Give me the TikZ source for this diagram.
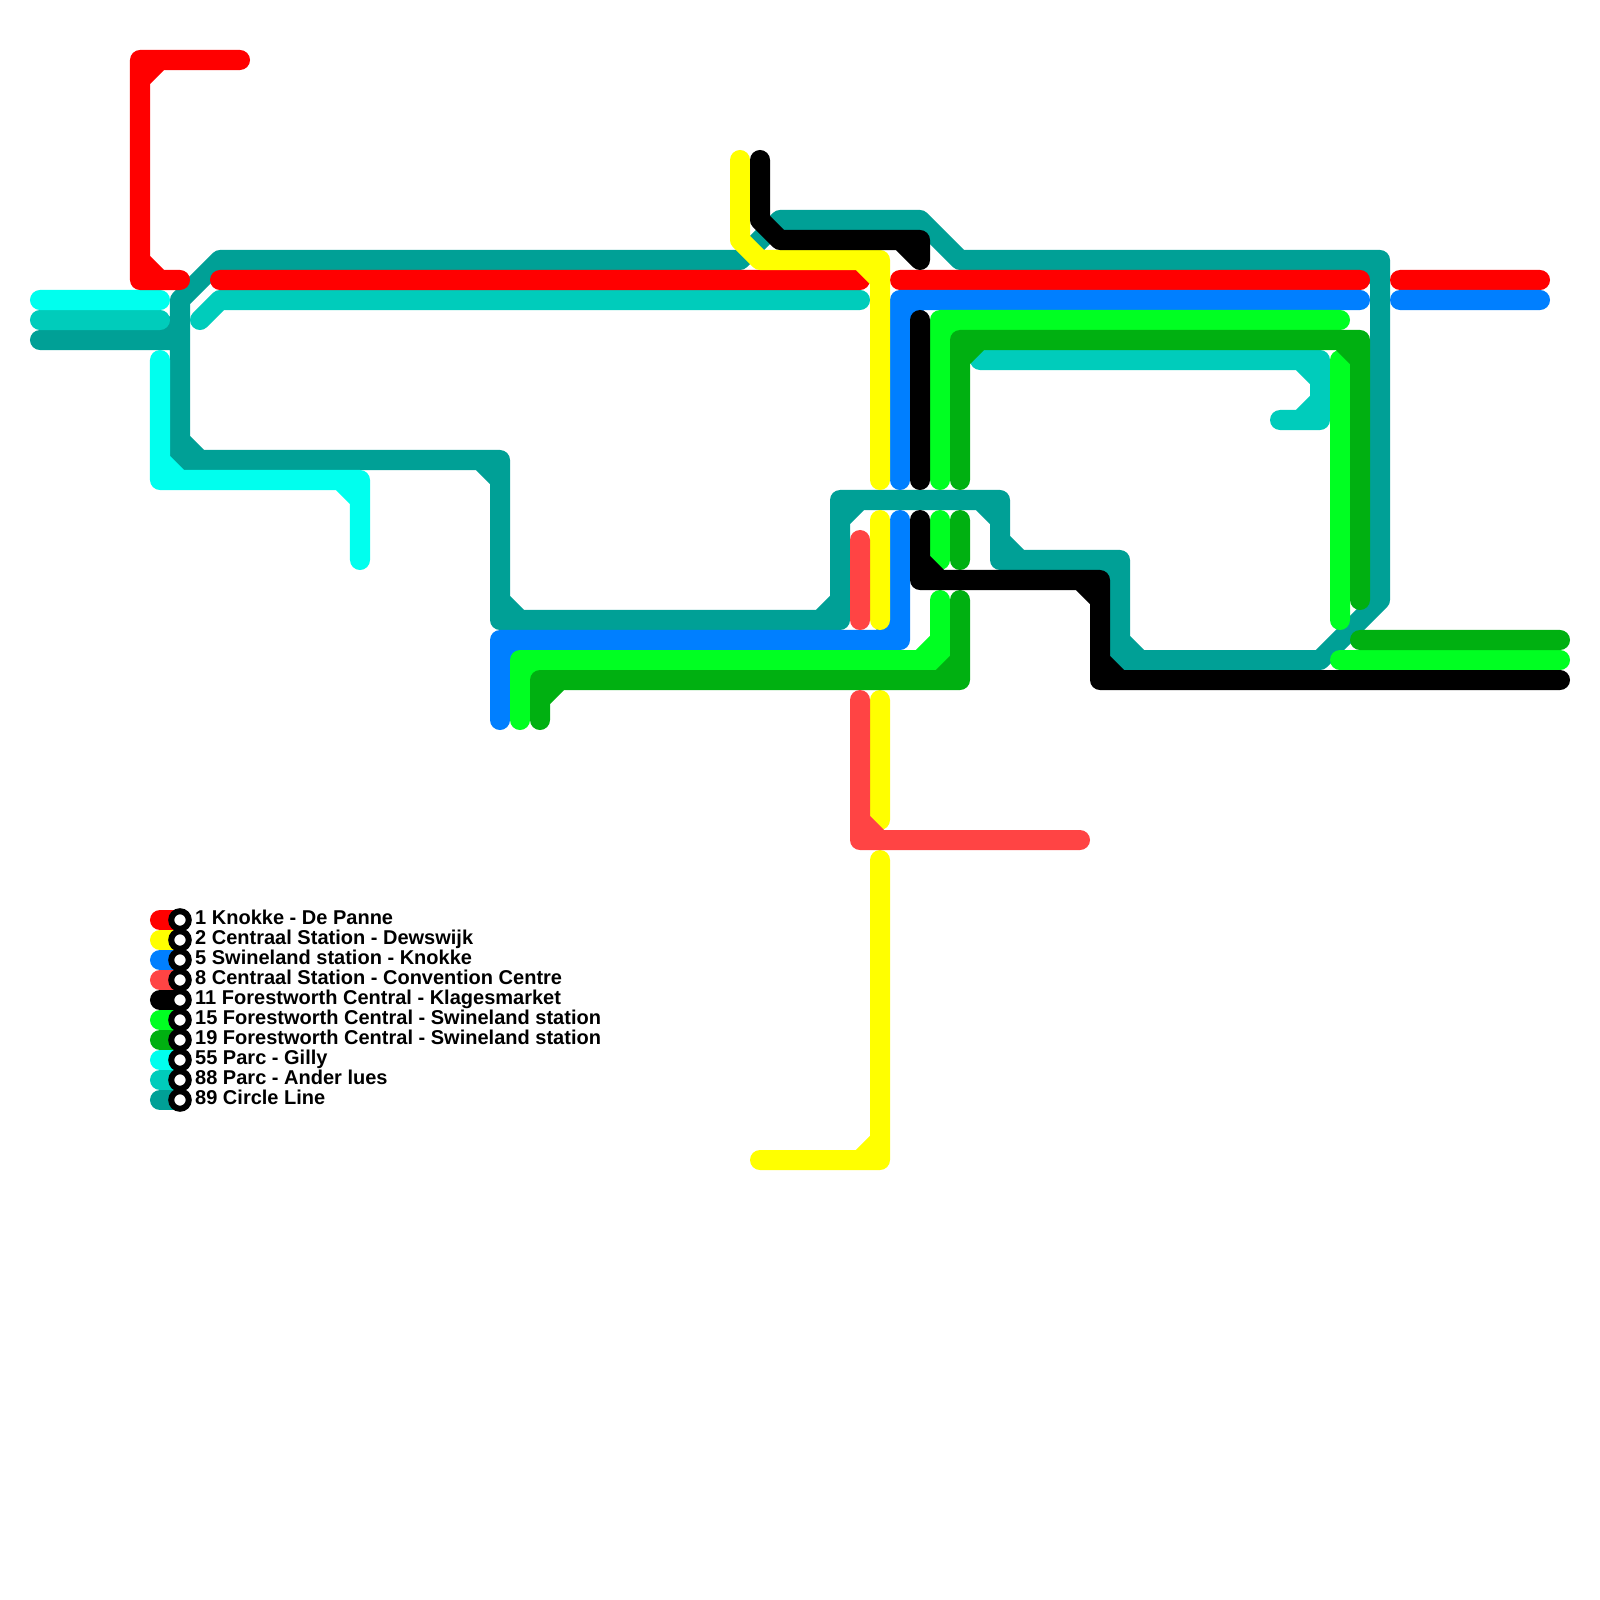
\documentclass[tikz,border=0pt]{standalone}
\usepackage{fontspec}
\setmainfont{Liberation Sans}
\definecolor{cOne}{RGB}{255,0,0}
\definecolor{cTwo}{RGB}{255,255,0}
\definecolor{cFive}{RGB}{0,127,255}
\definecolor{cEight}{RGB}{255,68,68}
\definecolor{cEleven}{RGB}{0,0,0}
\definecolor{cFifteen}{RGB}{0,255,34}
\definecolor{cNineteen}{RGB}{0,176,17}
\definecolor{cFiftyFive}{RGB}{0,255,238}
\definecolor{cEightyEight}{RGB}{0,204,187}
\definecolor{cEightyNine}{RGB}{0,160,150}
\tikzset{
  metro/.style={line width=2mm,line cap=round,line join=round},
  stationdot/.style={circle,draw=black,fill=white,line width=0.6mm,minimum size=1.75mm,inner sep=0pt,outer sep=0pt},
  legendtext/.style={anchor=base west,inner sep=0pt,font=\fontsize{5.69pt}{6pt}\selectfont\bfseries}
}
\begin{document}
\begin{tikzpicture}[x=0.01cm,y=-0.01cm]
\useasboundingbox (0,0) rectangle (1600,1600);
% 89 Circle Line
\draw[metro,cEightyNine]
  (40,340)--(180,340) (160,340)--(180,320) (180,340)--(180,300)--(220,260)--(740,260)--(780,220)--(920,220)--(960,260)--(1380,260)--(1380,600)--(1320,660)--(1120,660)--(1120,560)--(1000,560)--(1000,500)--(840,500)--(840,620)--(500,620)--(500,460)--(180,460)--(180,340)
  (1360,260)--(1380,280) (1120,640)--(1140,660) (1100,560)--(1120,580) (1000,540)--(1020,560) (1000,520)--(980,500) (840,520)--(860,500) (840,600)--(820,620) (500,600)--(520,620) (480,460)--(500,480) (180,440)--(200,460);
% 88
\draw[metro,cEightyEight]
  (40,320)--(160,320)
  (200,320)--(220,300)--(860,300)
  (980,360)--(1320,360)--(1320,420)--(1280,420)
  (1300,360)--(1320,380) (1320,400)--(1300,420);
% 55
\draw[metro,cFiftyFive]
  (40,300)--(160,300)
  (160,360)--(160,480)--(360,480)--(360,560)
  (160,460)--(180,480) (340,480)--(360,500);
% 1
\draw[metro,cOne]
  (240,60)--(140,60)--(140,280)--(180,280)
  (160,60)--(140,80) (140,260)--(160,280)
  (220,280)--(860,280)
  (900,280)--(1360,280)
  (1400,280)--(1540,280);
% 5
\draw[metro,cFive]
  (1540,300)--(1400,300)
  (1360,300)--(900,300)--(900,480)
  (920,300)--(900,320)
  (900,520)--(900,640)--(500,640)--(500,720)
  (900,620)--(880,640) (500,660)--(520,640);
% 2
\draw[metro,cTwo]
  (740,160)--(740,240)--(760,260)--(880,260)--(880,480)
  (860,260)--(880,280)
  (880,520)--(880,620)
  (880,700)--(880,820)
  (880,860)--(880,1160)--(760,1160)
  (880,1140)--(860,1160);
% 15
\draw[metro,cFifteen]
  (940,480)--(940,320)--(1340,320)
  (940,340)--(960,320)
  (1340,360)--(1340,620)
  (940,520)--(940,560)
  (940,600)--(940,660)--(520,660)--(520,720)
  (940,640)--(920,660) (520,680)--(540,660)
  (1340,660)--(1560,660);
% 19
\draw[metro,cNineteen]
  (960,480)--(960,340)--(1360,340)--(1360,600)
  (960,360)--(980,340) (1340,340)--(1360,360)
  (960,520)--(960,560)
  (960,600)--(960,680)--(540,680)--(540,720)
  (960,660)--(940,680) (540,700)--(560,680)
  (1360,640)--(1560,640);
% 11
\draw[metro,cEleven]
  (760,160)--(760,220)--(780,240)--(920,240)--(920,260)
  (900,240)--(920,260)
  (920,320)--(920,480)
  (920,520)--(920,580)--(1100,580)--(1100,680)--(1560,680)
  (920,560)--(940,580) (1080,580)--(1100,600) (1100,660)--(1120,680);
% 8
\draw[metro,cEight]
  (860,540)--(860,620)
  (860,700)--(860,840)--(1080,840)
  (860,820)--(880,840);
% legend
\foreach \row/\col/\txt [count=\i from 0] in {
  a/cOne/{1 Knokke - De Panne},
  b/cTwo/{2 Centraal Station - Dewswijk},
  c/cFive/{5 Swineland station - Knokke},
  d/cEight/{8 Centraal Station - Convention Centre},
  e/cEleven/{11 Forestworth Central - Klagesmarket},
  f/cFifteen/{15 Forestworth Central - Swineland station},
  g/cNineteen/{19 Forestworth Central - Swineland station},
  h/cFiftyFive/{55 Parc - Gilly},
  i/cEightyEight/{88 Parc - Ander lues},
  j/cEightyNine/{89 Circle Line}}{
  \pgfmathsetmacro{\yy}{920+20*\i}
  \coordinate (stub\row) at (160,\yy);
  \coordinate (end\row) at (180,\yy);
  \draw[metro,\col] (stub\row) -- (end\row);
  \node[stationdot] (dot\row) at (end\row) {};
  \node[legendtext] (label\row) at (194.5,\yy+4.6) {\txt};
}
\end{tikzpicture}
\end{document}
